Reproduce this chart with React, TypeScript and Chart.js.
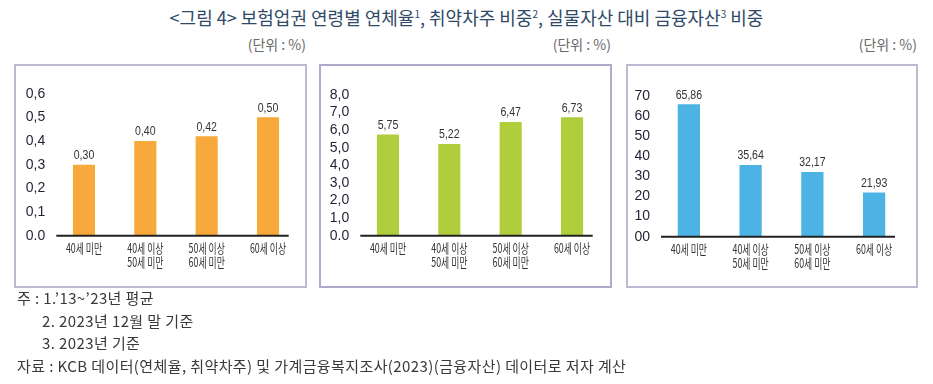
import React, { useEffect, useRef } from "react";
import { Chart, registerables } from "chart.js";

Chart.register(...registerables);

// ---- data ----
const categories: string[][] = [
  ["40세 미만"],
  ["40세 이상", "50세 미만"],
  ["50세 이상", "60세 미만"],
  ["60세 이상"],
];
const delinquencyRate = [0.3, 0.4, 0.42, 0.5];
const vulnerableShare = [5.75, 5.22, 6.47, 6.73];
const finAssetRatio = [65.86, 35.64, 32.17, 21.93];

const ticksRate = ["0.0", "0,1", "0,2", "0,3", "0,4", "0,5", "0,6"];
const ticksShare = ["0.0", "1,0", "2,0", "3,0", "4,0", "5,0", "6,0", "7,0", "8,0"];
const ticksAsset = ["00", "10", "20", "30", "40", "50", "60", "70"];

const titleParts = ["<그림 4> 보험업권 연령별 연체율", "1", ", 취약차주 비중", "2", ", 실물자산 대비 금융자산", "3", " 비중"];
const unitLabel = "(단위 : %)";
const notes = [
  "주 : 1.’13~’23년 평균",
  "2. 2023년 12월 말 기준",
  "3. 2023년 기준",
  "자료 : KCB 데이터(연체율, 취약차주) 및 가계금융복지조사(2023)(금융자산) 데이터로 저자 계산",
];

const KFONT = '"Noto Sans CJK KR", "Noto Sans", sans-serif';
const NFONT = '"Liberation Sans", Arial, sans-serif';

type PanelSpec = {
  left: number;
  top: number;
  width: number;
  height: number;
  border: string;
  values: number[];
  tickLabels: string[];
  step: number;
  color: string;
  yWidth: number;
  padTop: number;
  padRight: number;
  padBottom: number;
};

const panels: PanelSpec[] = [
  {
    left: 14, top: 64, width: 293, height: 224, border: "#bcb9d2",
    values: delinquencyRate, tickLabels: ticksRate, step: 0.1, color: "#f7a93b",
    yWidth: 39.3, padTop: 29.7, padRight: 8.3, padBottom: 52.3,
  },
  {
    left: 319, top: 64, width: 293, height: 224, border: "#b0a9cc",
    values: vulnerableShare, tickLabels: ticksShare, step: 1, color: "#b0cd3c",
    yWidth: 38.3, padTop: 31, padRight: 9.3, padBottom: 52.3,
  },
  {
    left: 626, top: 64, width: 292, height: 224, border: "#bcb9d2",
    values: finAssetRatio, tickLabels: ticksAsset, step: 10, color: "#4db3e4",
    yWidth: 32, padTop: 32, padRight: 13, padBottom: 51.3,
  },
];

function drawCondensed(ctx: CanvasRenderingContext2D, text: string, x: number, y: number, sx: number) {
  ctx.save();
  ctx.translate(x, y);
  ctx.scale(sx, 1);
  ctx.fillText(text, 0, 0);
  ctx.restore();
}

const decorPlugin = {
  id: "decor",
  afterDatasetsDraw(chart: any) {
    const { ctx, chartArea, scales } = chart;
    const y0 = scales.y.getPixelForValue(0);
    ctx.save();
    ctx.strokeStyle = "#222222";
    ctx.lineWidth = 2;
    ctx.beginPath();
    ctx.moveTo(chartArea.left + 3, y0);
    ctx.lineTo(chartArea.right - 10, y0);
    ctx.stroke();

    const meta = chart.getDatasetMeta(0);
    const values: number[] = chart.data.datasets[0].data;
    ctx.fillStyle = "#333333";
    ctx.textAlign = "center";
    ctx.textBaseline = "middle";
    meta.data.forEach((el: any, i: number) => {
      ctx.font = `12px ${NFONT}`;
      drawCondensed(ctx, values[i].toFixed(2).replace(".", ","), el.x, el.y - 9, 0.88);
      ctx.font = `13px ${KFONT}`;
      const lines: string[] = chart.data.labels[i];
      lines.forEach((ln, j) => {
        drawCondensed(ctx, ln, el.x, y0 + 12.5 + j * 14, 0.68);
      });
    });
    ctx.restore();
  },
};

function BarPanel({ spec }: { spec: PanelSpec }) {
  const ref = useRef<HTMLCanvasElement | null>(null);
  useEffect(() => {
    if (!ref.current) return;
    const max = spec.step * (spec.tickLabels.length - 1);
    const chart = new Chart(ref.current, {
      type: "bar",
      data: {
        labels: categories as any,
        datasets: [
          {
            data: spec.values,
            backgroundColor: spec.color,
            barPercentage: 0.36,
            categoryPercentage: 1,
          },
        ],
      },
      options: {
        animation: false,
        responsive: false,
        maintainAspectRatio: false,
        events: [],
        layout: {
          padding: { left: 0, top: spec.padTop, right: spec.padRight, bottom: spec.padBottom },
        },
        plugins: { legend: { display: false }, tooltip: { enabled: false } },
        scales: {
          x: { display: false },
          y: {
            min: 0,
            max,
            grid: { display: false },
            border: { display: false },
            ticks: {
              stepSize: spec.step,
              autoSkip: false,
              padding: 0,
              color: "#1e2233",
              font: { family: NFONT, size: 14 },
              callback: (_v: any, idx: number) => spec.tickLabels[idx],
            },
            afterFit: (scale: any) => {
              scale.width = spec.yWidth;
            },
          },
        },
      },
      plugins: [decorPlugin],
    } as any);
    return () => chart.destroy();
  }, [spec]);

  return (
    <>
      <div
        style={{
          position: "absolute",
          left: spec.left,
          top: spec.top,
          width: spec.width,
          height: spec.height,
          boxSizing: "border-box",
          border: `2px solid ${spec.border}`,
        }}
      />
      <canvas
        ref={ref}
        width={spec.width}
        height={spec.height}
        style={{ position: "absolute", left: spec.left, top: spec.top, width: spec.width, height: spec.height }}
      />
      <div
        style={{
          position: "absolute",
          left: spec.left + spec.width - 201,
          width: 200,
          top: 36,
          textAlign: "right",
          fontFamily: KFONT,
          fontSize: 14,
          lineHeight: "17px",
          color: "#6a6a6a",
          whiteSpace: "nowrap",
        }}
      >
        {unitLabel}
      </div>
    </>
  );
}

export default function App() {
  const supStyle: React.CSSProperties = { fontSize: 10, position: "relative", top: -7 };
  const noteTops = [286, 309, 331, 354];
  const noteLefts = [17, 42, 42, 17];
  return (
    <div style={{ position: "absolute", left: 0, top: 0, width: 933, height: 384, background: "#ffffff", overflow: "hidden" }}>
      <div
        style={{
          position: "absolute",
          left: 0,
          top: 6,
          width: 933,
          textAlign: "center",
          fontFamily: KFONT,
          fontSize: 18,
          lineHeight: "22px",
          color: "#2f4a68",
          whiteSpace: "nowrap",
        }}
      >
        {titleParts.map((p, i) =>
          i % 2 === 1 ? (
            <span key={i} style={supStyle}>{p}</span>
          ) : (
            <span key={i}>{p}</span>
          )
        )}
      </div>
      {panels.map((p, i) => (
        <BarPanel key={i} spec={p} />
      ))}
      {notes.map((n, i) => (
        <div
          key={i}
          style={{
            position: "absolute",
            left: noteLefts[i],
            top: noteTops[i],
            fontFamily: KFONT,
            fontSize: 15,
            letterSpacing: "0.4px",
            lineHeight: "24px",
            color: "#3a3a3a",
            whiteSpace: "nowrap",
          }}
        >
          {n}
        </div>
      ))}
    </div>
  );
}
